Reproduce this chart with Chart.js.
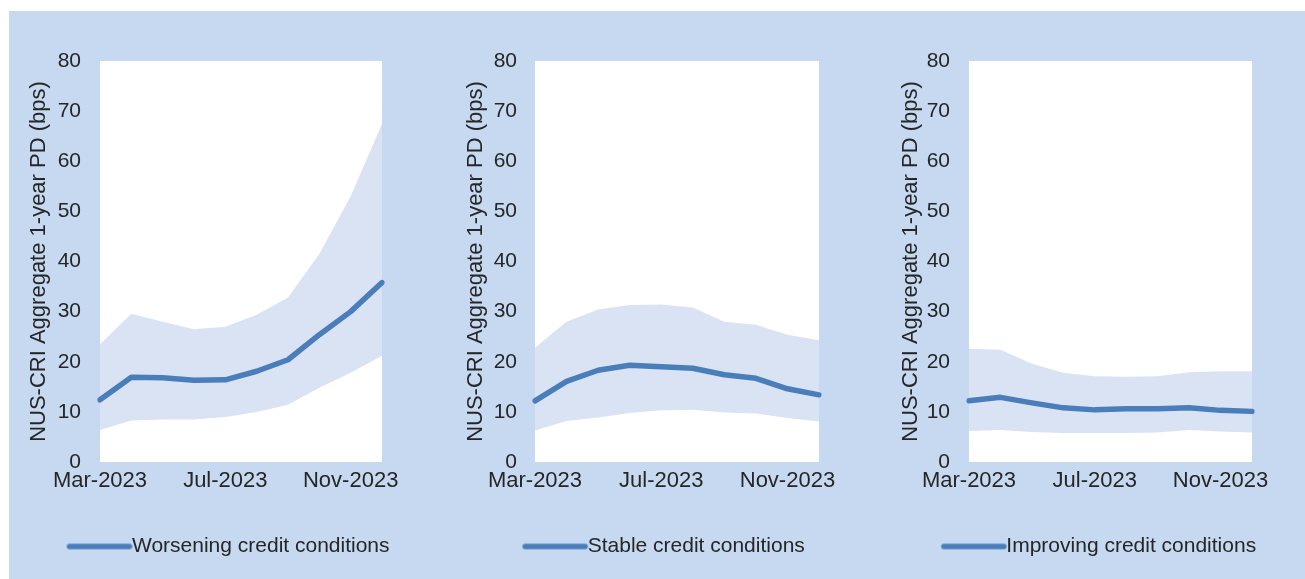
<!DOCTYPE html>
<html>
<head>
<meta charset="utf-8">
<script src="https://cdn.jsdelivr.net/npm/chart.js@4.4.0/dist/chart.umd.min.js"></script>
<style>
  html, body { margin: 0; padding: 0; background: #fff; overflow: hidden; }
  #wrap { position: relative; width: 1305px; height: 579px; overflow: hidden; }
  #bg { position: absolute; left: 9px; top: 11px; width: 1296px; height: 568px; background: #c6d9f0; }
  canvas { position: absolute; top: 11px; }
</style>
</head>
<body>
<div id="wrap">
  <div id="bg"></div>
  <canvas id="c1" width="441" height="568" style="left:9px"></canvas>
  <canvas id="c2" width="438" height="568" style="left:446px"></canvas>
  <canvas id="c3" width="438" height="568" style="left:881px"></canvas>
</div>
<script>
// monthly points, Mar-2023 .. Dec-2023
var months = ['Mar-2023', 'Apr-2023', 'May-2023', 'Jun-2023', 'Jul-2023', 'Aug-2023', 'Sep-2023', 'Oct-2023', 'Nov-2023', 'Dec-2023'];
var yTicks = [0, 10, 20, 30, 40, 50, 60, 70, 80];
var yTitle = 'NUS-CRI Aggregate 1-year PD (bps)';

var worsening     = [12.4, 16.9, 16.8, 16.3, 16.4, 18.1, 20.4, 25.4, 30.0, 35.8];
var worseningHigh = [23.5, 29.6, 28.0, 26.5, 27.0, 29.4, 32.8, 41.5, 53.0, 67.5];
var worseningLow  = [6.4, 8.3, 8.5, 8.5, 9.0, 10.0, 11.4, 14.8, 17.8, 21.2];

var stable     = [12.2, 16.1, 18.3, 19.3, 19.0, 18.7, 17.4, 16.7, 14.6, 13.4];
var stableHigh = [22.8, 28.0, 30.4, 31.3, 31.4, 30.8, 28.0, 27.4, 25.4, 24.3];
var stableLow  = [6.3, 8.2, 8.9, 9.8, 10.3, 10.4, 9.9, 9.7, 8.8, 8.1];

var improving     = [12.2, 12.9, 11.8, 10.8, 10.4, 10.6, 10.6, 10.8, 10.3, 10.1];
var improvingHigh = [22.6, 22.4, 19.6, 17.8, 17.1, 17.0, 17.1, 17.9, 18.1, 18.1];
var improvingLow  = [6.2, 6.4, 6.0, 5.8, 5.8, 5.8, 5.9, 6.4, 6.1, 5.9];

var lineColor = '#4a7ebb';
var bandColor = '#dae3f3';
var textColor = '#262626';
var font = 'Liberation Sans, Arial, sans-serif';

// legend swatch: a line that runs right up to the label text
var swatch = document.createElement('canvas');
swatch.width = 80; swatch.height = 10;
(function () {
  var c = swatch.getContext('2d');
  c.strokeStyle = lineColor; c.lineWidth = 5.5; c.lineCap = 'round';
  c.beginPath(); c.moveTo(14, 5); c.lineTo(74, 5); c.stroke();
})();

// white plot area
var plotBg = {
  id: 'plotBg',
  beforeDraw: function (chart) {
    var a = chart.chartArea, ctx = chart.ctx;
    ctx.save();
    ctx.fillStyle = '#ffffff';
    ctx.fillRect(a.left, a.top, a.right - a.left, a.bottom - a.top);
    ctx.restore();
  }
};

function makeChart(id, label, line, high, low, yWidth, tickPad, rightWidth) {
  return new Chart(document.getElementById(id), {
    type: 'line',
    data: {
      labels: months,
      datasets: [
        {label: label, data: line, yAxisID: 'y', borderColor: lineColor, backgroundColor: lineColor,
         borderWidth: 5.5, pointRadius: 0, tension: 0, borderJoinStyle: 'round', borderCapStyle: 'round', fill: false},
        {label: 'high', data: high, yAxisID: 'y', borderWidth: 0, pointRadius: 0, tension: 0,
         backgroundColor: bandColor, fill: '+1'},
        {label: 'low', data: low, yAxisID: 'y', borderWidth: 0, pointRadius: 0, tension: 0, fill: false}
      ]
    },
    options: {
      responsive: false,
      animation: false,
      layout: {padding: {top: 50, left: 0, right: 0, bottom: 12}},
      plugins: {
        tooltip: {enabled: false},
        legend: {
          position: 'bottom',
          labels: {
            filter: function (item) { return item.datasetIndex === 0; },
            usePointStyle: true, pointStyle: swatch, pointStyleWidth: 52,
            color: textColor, padding: 10,
            font: {family: font, size: 21}
          }
        }
      },
      scales: {
        x: {
          grid: {display: false, drawTicks: false},
          border: {display: false},
          ticks: {
            autoSkip: false, maxRotation: 0, padding: 6, color: textColor,
            font: {family: font, size: 22},
            callback: function (v, i) { return i % 4 === 0 ? months[i] : ''; }
          },
          afterFit: function (s) { s.height = 64; }
        },
        y: {
          min: 0, max: 80,
          grid: {display: false, drawTicks: false},
          border: {display: false},
          afterBuildTicks: function (s) { s.ticks = yTicks.map(function (v) { return {value: v}; }); },
          ticks: {padding: tickPad, color: textColor, font: {family: font, size: 21}},
          title: {display: true, text: yTitle, color: textColor, padding: {top: 17, bottom: 0},
                  font: {family: font, size: 22}},
          afterFit: function (s) { s.width = yWidth; }
        },
        yRight: {
          type: 'linear', position: 'right', display: true,
          grid: {display: false, drawTicks: false},
          border: {display: false},
          ticks: {display: false},
          afterFit: function (s) { s.width = rightWidth; }
        }
      }
    },
    plugins: [plotBg]
  });
}

makeChart('c1', 'Worsening credit conditions', worsening, worseningHigh, worseningLow, 91, 19, 68);
makeChart('c2', 'Stable credit conditions', stable, stableHigh, stableLow, 89, 18, 65);
makeChart('c3', 'Improving credit conditions', improving, improvingHigh, improvingLow, 88, 19, 67);
</script>
</body>
</html>
